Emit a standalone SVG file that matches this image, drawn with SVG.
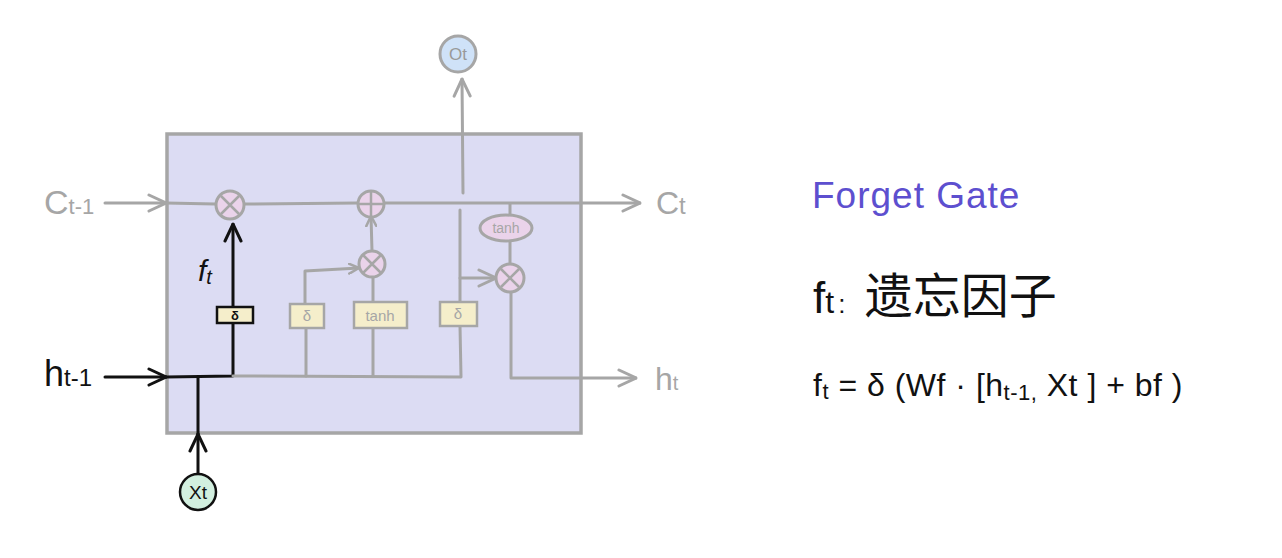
<svg xmlns="http://www.w3.org/2000/svg" width="1282" height="558" viewBox="0 0 1282 558">
<style>
.g{stroke:#a6a6a6;stroke-width:3;fill:none;stroke-linecap:round;stroke-linejoin:round}
.k{stroke:#111;stroke-width:3;fill:none;stroke-linecap:round;stroke-linejoin:round}
.op{fill:#ead3ea;stroke:#a6a6a6;stroke-width:3}
.gate{fill:#f5eecb;stroke:#a6a6a6;stroke-width:2.5}
.lg{font-family:"Liberation Sans","Noto Sans",sans-serif;fill:#a6a6a6}
.lk{font-family:"Liberation Sans","Noto Sans",sans-serif;fill:#111}
.cross{stroke:#a6a6a6;stroke-width:2.5;fill:none}
</style>
<defs>
<marker id="ag" viewBox="0 0 12 12" refX="11" refY="6" markerWidth="12" markerHeight="12" markerUnits="userSpaceOnUse" orient="auto"><path d="M1,1 L11,6 L1,11" fill="none" stroke="#a6a6a6" stroke-width="2.5" stroke-linecap="round"/></marker>
<marker id="agL" viewBox="0 0 20 20" refX="19" refY="10" markerWidth="20" markerHeight="20" markerUnits="userSpaceOnUse" orient="auto"><path d="M2,2 L19,10 L2,18" fill="none" stroke="#a6a6a6" stroke-width="3" stroke-linecap="round"/></marker>
<marker id="akL" viewBox="0 0 20 20" refX="19" refY="10" markerWidth="20" markerHeight="20" markerUnits="userSpaceOnUse" orient="auto"><path d="M2,2 L19,10 L2,18" fill="none" stroke="#111" stroke-width="3" stroke-linecap="round"/></marker>
</defs>
<rect width="1282" height="558" fill="#fff"/>
<g id="cell"><rect x="167" y="134" width="414" height="299" fill="#dcdcf3" stroke="#a6a6a6" stroke-width="3.5"/></g>

<g id="connectors">
<line class="g" x1="105" y1="203" x2="166" y2="203" marker-end="url(#agL)"/>
<line class="g" x1="166" y1="203" x2="215" y2="204"/>
<line class="g" x1="245" y1="204" x2="358" y2="203"/>
<line class="g" x1="384" y1="203" x2="640" y2="203" marker-end="url(#agL)"/>
<line class="g" x1="463" y1="193" x2="462" y2="79" marker-end="url(#agL)"/>
<line class="k" x1="105" y1="377" x2="166" y2="377" marker-end="url(#akL)"/>
<polyline class="k" points="166,377 233,376 233,323"/>
<line class="k" x1="233" y1="307" x2="233" y2="224" marker-end="url(#akL)"/>
<line class="k" x1="198" y1="474" x2="198" y2="434" marker-end="url(#akL)"/>
<line class="k" x1="198" y1="434" x2="198" y2="377"/>
<polyline class="g" points="233,376 461,377 460,326"/>
<line class="g" x1="306" y1="376" x2="306" y2="328"/>
<polyline class="g" points="305,304 305,271 359,268" marker-end="url(#ag)"/>
<line class="g" x1="373" y1="376" x2="373" y2="328"/>
<line class="g" x1="373" y1="302" x2="373" y2="277"/>
<line class="g" x1="372" y1="251" x2="371" y2="216" marker-end="url(#ag)"/>
<line class="g" x1="460" y1="302" x2="460" y2="210"/>
<line class="g" x1="460" y1="278" x2="496" y2="278" marker-end="url(#agL)"/>
<line class="g" x1="510" y1="204" x2="510" y2="215"/>
<line class="g" x1="510" y1="241" x2="510" y2="264"/>
<polyline class="g" points="511,292 511,378 636,378" marker-end="url(#agL)"/>
</g>

<g id="mul1"><circle class="op" cx="230" cy="205" r="14"/><path class="cross" d="M221,196 L239,214 M239,196 L221,214"/></g>
<g id="add"><circle class="op" cx="371" cy="204" r="13"/><path class="cross" d="M371,191 V217 M358,204 H384"/></g>
<g id="mul2"><circle class="op" cx="372" cy="264" r="13"/><path class="cross" d="M363,255 L381,273 M381,255 L363,273"/></g>
<g id="mul3"><circle class="op" cx="510" cy="278" r="14"/><path class="cross" d="M501,269 L519,287 M519,269 L501,287"/></g>
<g id="tanh2"><ellipse class="op" cx="506" cy="228" rx="26" ry="13"/><text class="lg" x="506" y="233" font-size="14" text-anchor="middle">tanh</text></g>

<g id="sig_f"><rect x="217" y="307" width="36" height="16" fill="#f5eecb" stroke="#111" stroke-width="2.5"/><text class="lk" x="235" y="320" font-size="13" font-weight="bold" text-anchor="middle">δ</text></g>
<g id="sig_i"><rect class="gate" x="290" y="304" width="34" height="24"/><text class="lg" x="307" y="321" font-size="15" text-anchor="middle">δ</text></g>
<g id="tanh_c"><rect class="gate" x="354" y="302" width="53" height="26"/><text class="lg" x="380" y="321" font-size="15" text-anchor="middle">tanh</text></g>
<g id="sig_o"><rect class="gate" x="440" y="302" width="37" height="24"/><text class="lg" x="458" y="319" font-size="15" text-anchor="middle">δ</text></g>

<g id="Ot"><circle cx="458" cy="54" r="18" fill="#cfe2f8" stroke="#a6a6a6" stroke-width="3"/><text x="458" y="60" font-size="17" text-anchor="middle" font-family="Liberation Sans,sans-serif" fill="#999">Ot</text></g>
<g id="Xt"><circle cx="198" cy="492" r="18" fill="#d2efdf" stroke="#111" stroke-width="2.5"/><text class="lk" x="198" y="499" font-size="19" text-anchor="middle">Xt</text></g>

<g id="labels">
<text class="lg" x="44" y="214" font-size="34">C<tspan font-size="22">t-1</tspan></text>
<text class="lg" x="656" y="214" font-size="32">C<tspan font-size="24">t</tspan></text>
<text class="lk" x="44" y="386" font-size="36">h<tspan font-size="24">t-1</tspan></text>
<text class="lg" x="655" y="390" font-size="32">h<tspan font-size="20">t</tspan></text>
<text class="lk" x="198" y="281" font-size="30" font-style="italic">f<tspan font-size="20" dy="3">t</tspan></text>
</g>

<g id="notes">
<text x="812" y="208" font-size="37" letter-spacing="1" fill="#5d4fcf" font-family="Liberation Sans,sans-serif">Forget Gate</text>
<text x="813" y="313" font-size="44" fill="#111" font-family="Liberation Sans,'Noto Sans CJK SC',sans-serif">f<tspan font-size="32">t</tspan><tspan font-size="26" dx="4">:</tspan><tspan font-size="48" dx="6"> 遗忘因子</tspan></text>
<text x="813" y="396" font-size="32" letter-spacing="0.5" fill="#111" font-family="Liberation Sans,sans-serif">f<tspan font-size="22" dy="3">t</tspan><tspan dy="-3"> = δ (Wf · [h</tspan><tspan font-size="22" dy="4">t-1,</tspan><tspan dy="-4"> Xt ] + bf )</tspan></text>
</g>
</svg>
